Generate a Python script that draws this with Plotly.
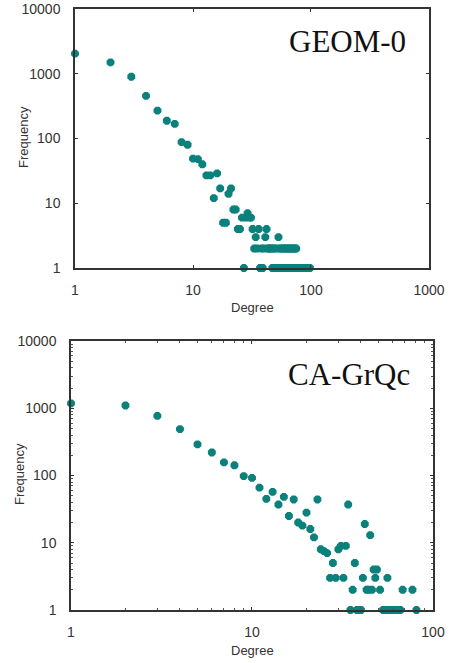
import plotly.graph_objects as go

# GEOM-0 degree distribution
geom_deg = [1, 2, 3, 4, 5, 6, 7, 8, 9, 10, 11, 12, 13, 14, 15, 16, 17, 18, 19, 20,
            21, 22, 23, 24, 25, 26, 28, 29, 30, 31, 32, 34, 36, 41, 42, 53,
            33, 35, 38, 40, 43, 44, 45, 46, 48, 49, 52, 55, 56, 58, 60, 61, 63, 65, 66, 68, 69, 72, 73, 75,
            27, 37, 39, 47, 50, 51, 54, 57, 59, 62, 64, 67, 70, 71, 74, 77, 79, 82, 85, 88, 91, 95, 98]
geom_freq = [2050, 1500, 900, 455, 270, 188, 168, 88, 80, 49, 48, 40, 27, 27, 12, 29, 17, 5, 5, 14,
             17, 8, 8, 4, 4, 6, 6, 7, 6, 6, 4, 3, 4, 3, 4, 3,
             2, 2, 2, 2, 2, 2, 2, 2, 2, 2, 2, 2, 2, 2, 2, 2, 2, 2, 2, 2, 2, 2, 2, 2,
             1, 1, 1, 1, 1, 1, 1, 1, 1, 1, 1, 1, 1, 1, 1, 1, 1, 1, 1, 1, 1, 1, 1]

# CA-GrQc degree distribution
grqc_deg = [1, 2, 3, 4, 5, 6, 7, 8, 9, 10, 11, 12, 13, 14, 15, 16, 17, 18, 19, 20,
            21, 22, 23, 24, 25, 26, 27, 28, 29, 30, 31, 32, 33, 34, 35, 36, 37, 38, 39, 40,
            41, 42, 43, 44, 45, 46, 47, 48, 49, 51, 53, 54, 55, 56, 57, 58, 59, 60, 61, 62,
            64, 65, 66, 68, 77, 81]
grqc_freq = [1180, 1100, 770, 490, 290, 220, 157, 142, 98, 92, 66, 45, 57, 37, 48, 25, 44, 20, 18, 28,
             16, 12, 44, 8, 7.5, 7, 3, 5, 3, 8, 9, 3, 9, 37, 1, 2, 5, 1, 1, 1,
             3, 19, 2, 2, 13, 2, 4, 3, 4, 2, 1, 1, 1, 3, 1, 1, 1, 1, 1, 1,
             1, 1, 1, 2, 2, 1]

teal = "#0b817c"
W, H = 457, 663

fig = go.Figure()
fig.add_trace(go.Scatter(x=geom_deg, y=geom_freq, mode="markers", xaxis="x", yaxis="y",
                         marker=dict(symbol="octagon", size=8.5, color=teal),
                         cliponaxis=False, showlegend=False))
fig.add_trace(go.Scatter(x=grqc_deg, y=grqc_freq, mode="markers", xaxis="x2", yaxis="y2",
                         marker=dict(symbol="octagon", size=8.5, color=teal),
                         cliponaxis=False, showlegend=False))

tickfont = dict(family="Arial, Liberation Sans, sans-serif", size=14, color="#333333")
common = dict(type="log", showgrid=False, zeroline=False, showline=True, linecolor="#333333",
              linewidth=1.5, mirror="allticks", ticks="inside", ticklen=3, tickcolor="#333333",
              tickfont=tickfont, automargin=False, fixedrange=True, ticklabeloverflow="allow")


def px_x(p):
    return p / W


def px_y(p):
    return 1 - p / H


fig.update_layout(
    width=W, height=H, margin=dict(l=0, r=0, t=0, b=0),
    paper_bgcolor="white", plot_bgcolor="white",
    xaxis=dict(common, domain=[px_x(75), px_x(429)], range=[0, 3.0001], anchor="y",
               tickvals=[1, 10, 100, 1000], ticktext=["1", "10", "100", "1000"], ticklabelstandoff=8),
    yaxis=dict(common, domain=[px_y(268), px_y(9)], range=[0, 4.0001], anchor="x",
               tickvals=[1, 10, 100, 1000, 10000], ticktext=["1", "10", "100", "1000", "10000"],
               ticklabelstandoff=10),
    xaxis2=dict(common, domain=[px_x(71), px_x(433)], range=[0, 2.0001], anchor="y2",
                tickvals=[1, 10, 100], ticktext=["1", "10", "100"], ticklabelstandoff=8,
                minor=dict(ticks="inside", ticklen=2, tickcolor="#555555", dtick="D1")),
    yaxis2=dict(common, domain=[px_y(610), px_y(341)], range=[0, 4.0001], anchor="x2",
                tickvals=[1, 10, 100, 1000, 10000], ticktext=["1", "10", "100", "1000", "10000"],
                ticklabelstandoff=10,
                minor=dict(ticks="inside", ticklen=2, tickcolor="#555555", dtick="D1")),
)

labfont = dict(family="Arial, Liberation Sans, sans-serif", size=13, color="#333333")
serif = dict(family="Times New Roman, Liberation Serif, serif", size=31, color="#111111")
fig.add_annotation(text="GEOM-0", x=px_x(347), y=px_y(41), xref="paper", yref="paper",
                   showarrow=False, font=serif, xanchor="center", yanchor="middle")
fig.add_annotation(text="CA-GrQc", x=px_x(349), y=px_y(374), xref="paper", yref="paper",
                   showarrow=False, font=serif, xanchor="center", yanchor="middle")
fig.add_annotation(text="Degree", x=px_x(252), y=px_y(307), xref="paper", yref="paper",
                   showarrow=False, font=labfont, xanchor="center", yanchor="middle")
fig.add_annotation(text="Degree", x=px_x(252), y=px_y(650), xref="paper", yref="paper",
                   showarrow=False, font=labfont, xanchor="center", yanchor="middle")
fig.add_annotation(text="Frequency", x=px_x(24), y=px_y(137), xref="paper", yref="paper",
                   showarrow=False, font=labfont, textangle=-90, xanchor="center", yanchor="middle")
fig.add_annotation(text="Frequency", x=px_x(19), y=px_y(474), xref="paper", yref="paper",
                   showarrow=False, font=labfont, textangle=-90, xanchor="center", yanchor="middle")

# the page body has a default margin; drop it so the figure fills the window
fig.write_html("out.html", config={"displayModeBar": False},
               post_script="document.body.style.margin='0';document.body.style.overflow='hidden';")
